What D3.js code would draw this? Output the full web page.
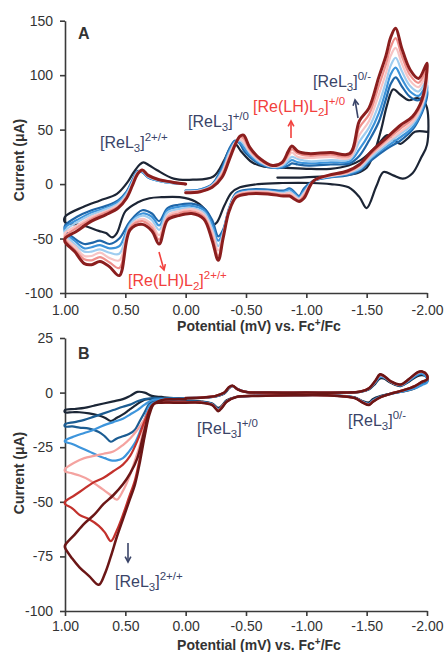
<!DOCTYPE html>
<html><head><meta charset="utf-8">
<script src="https://cdn.jsdelivr.net/npm/d3@7"></script>
<style>
body{margin:0;background:#fff;}
text{font-family:"Liberation Sans",Arial,sans-serif;}
</style></head>
<body><svg id="c" width="445" height="652"></svg>
<script>
// ---------- shared ticks ----------
const xTicks = [1, 0.5, 0, -0.5, -1, -1.5, -2];
const yTicksA = [150, 100, 50, 0, -50, -100];
const yTicksB = [25, 0, -25, -50, -75, -100];

// ---------- Panel A: potential grid (0 -> -2 -> 1 -> 0) ----------
const potA = [0.00,-0.12,-0.22,-0.30,-0.36,-0.41,-0.45,-0.48,-0.53,-0.62,-0.72,-0.80,-0.85,-0.88,-0.93,-1.02,-1.20,-1.36,-1.44,-1.52,-1.60,-1.66,-1.70,-1.74,-1.79,-1.86,-1.93,-2.00,
 -2.00,-1.96,-1.88,-1.78,-1.66,-1.54,-1.44,-1.34,-1.18,-1.06,-0.98,-0.94,-0.89,-0.86,-0.81,-0.68,-0.52,-0.42,-0.36,-0.31,-0.27,-0.22,-0.15,-0.05,0.06,0.15,0.22,0.28,0.36,0.46,0.55,0.63,0.71,0.78,0.84,0.92,1.00,
 1.00,0.90,0.78,0.66,0.56,0.49,0.44,0.40,0.36,0.31,0.22,0.12,0.00];

const iA_darkblue = [-6,-5,0,15,32,40,37,31,25,18,15,15,17,19,18,17,18,19,26,40,57,78,92,98,90,80,77,86,
 80,66,50,40,32,22,12,8,6,3,-4,-11,-6,-4,-6,-5,-5,-8,-22,-42,-48,-33,-22,-18,-19,-22,-34,-27,-24,-34,-50,-55,-52,-54,-55,-50,-42,
 -38,-30,-24,-20,-15,-7,4,12,11,6,3,1,0];
const iA_blue = [-6,-5,-1,13,30,39,38,34,27,19,15,16,20,22,20,19,20,21,32,46,65,86,101,107,97,85,81,91,
 85,68,52,43,34,24,13,9,6,3,-6,-12,-7,-5,-7,-6,-6,-9,-23,-44,-52,-37,-24,-20,-21,-24,-38,-30,-27,-36,-57,-59,-56,-58,-59,-52,-44,
 -40,-33,-26,-22,-16,-8,3,11,11,6,3,1,0];
const iA_lightblue = [-7,-6,-1,11,28,38,40,37,29,20,16,17,22,25,23,21,22,23,39,52,73,94,109,116,104,90,85,96,
 90,71,55,46,36,25,14,10,7,3,-8,-13,-9,-7,-8,-7,-7,-10,-23,-45,-57,-41,-26,-22,-23,-26,-42,-33,-29,-37,-64,-63,-60,-62,-62,-55,-46,
 -43,-35,-28,-23,-18,-9,2,11,12,7,3,1,0];
const iA_lightpink = [-7,-6,-2,10,26,38,41,39,30,21,16,18,25,29,25,24,25,24,45,58,82,102,118,125,111,95,89,101,
 95,73,57,48,38,27,16,10,7,3,-9,-14,-10,-8,-9,-7,-7,-10,-24,-47,-61,-44,-28,-23,-25,-29,-47,-37,-32,-39,-70,-68,-63,-66,-66,-57,-49,
 -45,-38,-30,-25,-19,-11,1,10,12,7,4,2,0];
const iA_salmon = [-8,-7,-2,8,24,37,43,42,32,22,17,19,27,32,28,26,27,26,52,64,90,110,126,134,118,100,93,106,
 100,76,60,51,40,28,17,11,8,3,-11,-15,-12,-10,-10,-8,-8,-11,-24,-48,-66,-48,-30,-25,-27,-31,-51,-40,-34,-40,-77,-72,-67,-70,-69,-60,-51,
 -48,-40,-32,-26,-21,-12,0,10,13,8,4,2,0];
const iA_darkred = [-8,-7,-3,6,22,36,44,45,34,23,17,20,30,35,30,28,29,28,58,70,98,118,135,143,125,105,97,111,
 105,78,62,54,42,30,18,12,8,3,-13,-16,-13,-11,-11,-9,-9,-12,-25,-50,-70,-52,-32,-27,-29,-33,-55,-43,-37,-42,-84,-76,-71,-74,-73,-62,-53,
 -50,-43,-34,-28,-22,-13,-1,9,13,8,4,2,0];

// navy trace (first scan, starts at -0.76 V)
const potA_navy = [-0.76,-0.95,-1.15,-1.30,-1.42,-1.50,-1.56,-1.62,-1.67,-1.72,-1.78,-1.85,-1.92,-1.97,-2.00,
 -2.00,-1.95,-1.88,-1.80,-1.72,-1.64,-1.58,-1.50,-1.44,-1.35,-1.20,-1.05,-0.80,-0.60,-0.45,-0.38,-0.32,-0.26,-0.23,-0.18,-0.08,0.05,0.20,0.30,0.40,0.50,0.57,0.61,0.66,0.72,0.85,1.00,
 1.00,0.85,0.71,0.57,0.48,0.43,0.38,0.35,0.30,0.24,0.10,-0.06,-0.23,-0.32,-0.37,-0.41,-0.46,-0.55,-0.65,-0.80,-1.00,-1.20,-1.35,-1.45,-1.52,-1.60,-1.67,-1.73,-1.78,-1.84,-1.90,-2.00];
const iA_navy = [6,6,7,8,10,15,28,50,73,87,82,77,79,76,70,
 36,24,10,5,8,11,-2,-22,-12,-3,0,1,1,0,-3,-8,-20,-35,-37,-26,-16,-12,-12,-13,-17,-25,-45,-49,-45,-43,-38,-35,
 -30,-21,-15,-9,2,11,18,20,17,13,5,4,7,22,33,37,30,20,16,15,14,14,17,22,28,37,45,40,37,42,48,48];

// ---------- Panel B: potential grid (0 -> -2 -> 1 -> 0) ----------
const potB = [0.00,-0.15,-0.25,-0.32,-0.36,-0.39,-0.43,-0.50,-0.70,-1.00,-1.30,-1.45,-1.52,-1.57,-1.61,-1.64,-1.70,-1.78,-1.85,-1.92,-1.96,-2.00,
 -2.00,-1.96,-1.90,-1.80,-1.70,-1.62,-1.55,-1.52,-1.47,-1.40,-1.20,-0.90,-0.60,-0.42,-0.34,-0.30,-0.27,-0.22,-0.12,0.00,0.10,0.20,0.26,0.30,0.34,0.38,0.42,0.47,0.52,0.57,0.62,0.67,0.72,0.80,0.88,0.94,1.00,
 1.00,0.92,0.84,0.76,0.68,0.60,0.52,0.46,0.40,0.34,0.28,0.20,0.10,0.00];

const iB_navy = [-2.5,-2.3,-1.8,-0.5,2,3,1.5,0.3,0,0,0,0.3,1.5,4,6.5,6.5,4.5,3,5,7.5,8,7,
 5,4,2,0.5,-0.5,-1.5,-3,-4.5,-4,-2.2,-1.2,-1.2,-1.4,-2,-3.5,-6,-7,-5,-4,-3.5,-3.5,-3.5,-3.5,-3,-3.2,-4.5,-6,-8,-10,-11.5,-13,-11.5,-10.5,-9.5,-9,-9,-9,
 -8,-7.5,-7,-6,-5,-4,-3,-1.5,0.3,0,-1.5,-2,-2.5,-2.5];
const iB_darkblue = [-2.5,-2.3,-1.7,-0.3,2.2,3,1.6,0.3,0,0,0,0.4,1.6,4.5,7,7,4.8,3.2,5.3,8,8.5,7,
 5,4,2.2,0.6,-0.5,-1.7,-3.5,-5,-4.2,-2.3,-1.2,-1.2,-1.4,-2,-3.8,-6.5,-7.5,-5.2,-4.2,-4,-4,-4,-4,-5,-9,-13,-17,-19,-20,-21,-22.5,-20,-18,-16.5,-16,-15.5,-15.5,
 -14.5,-13.5,-12.5,-11,-9.5,-8,-6.5,-5.5,-4,-3,-2.5,-2.5,-2.5,-2.5];
const iB_blue = [-2.5,-2.2,-1.6,-0.2,2.3,3,1.6,0.3,0,0,0,0.4,1.7,4.6,7.2,7,5,3.3,5.5,8.2,8.7,6.5,
 4.5,3.5,2,0.5,-0.6,-1.8,-3.8,-5.2,-4.3,-2.4,-1.3,-1.2,-1.5,-2,-3.9,-6.8,-7.8,-5.3,-4.3,-4.3,-4.3,-4.3,-4.5,-6,-12,-18,-23,-27,-30,-31,-31,-30,-29,-27,-25,-23.5,-22.5,
 -22,-20,-18.5,-17,-15,-13.5,-12,-10,-8,-5.5,-3.5,-3,-2.8,-2.7];
const iB_pink = [-2.5,-2.2,-1.5,0,2.5,3,1.5,0.3,0,0,0,0.5,2,5,8,7.5,5,3.5,6,9,9.5,8,
 6,5,3,1,-0.5,-2,-4,-5.5,-4.5,-2.5,-1.3,-1.2,-1.5,-2,-4,-6.5,-8,-5.5,-4.5,-4.5,-4.5,-4.5,-5,-8,-15,-24,-31,-39,-45,-49,-47,-45,-43,-40,-38,-37,-36,
 -35,-32,-30,-29,-28,-27,-24,-21,-17,-12,-6,-3.5,-3,-3];
const iB_red = [-2.5,-2.2,-1.5,0,2.5,3.1,1.5,0.3,0,0,0,0.5,2,5.2,8.2,7.7,5.1,3.6,6.1,9.2,9.6,8,
 6,5,3,1,-0.5,-2,-4.2,-5.6,-4.6,-2.5,-1.3,-1.2,-1.5,-2,-4.1,-6.8,-8.2,-5.6,-4.5,-4.5,-4.5,-4.5,-5,-9,-19,-30,-40,-48,-56,-63,-68,-64,-61,-58,-56,-53,-51,
 -50,-47,-44,-41,-39,-36,-33,-29,-22,-13,-6,-3.5,-3,-3];
const iB_darkred = [-2.5,-2.2,-1.5,0,2.6,3.2,1.5,0.3,0,0,0,0.5,2,5.3,8.4,7.8,5.2,3.7,6.2,9.3,9.7,8,
 6,5,3,1,-0.5,-2,-4.3,-5.7,-4.7,-2.5,-1.3,-1.2,-1.5,-2,-4.2,-7,-8.5,-5.7,-4.6,-4.6,-4.6,-4.6,-5,-10,-20,-32,-42,-50,-58,-66,-75,-83,-88,-84,-80,-76,-71,
 -70,-65,-60,-56,-51,-47,-42,-37,-30,-17,-6,-3.5,-3,-3];

// ---------- drawing ----------
const svg = d3.select("#c");
svg.append("rect").attr("width",445).attr("height",652).attr("fill","#fff");
const FONT = '"Liberation Sans",Arial,sans-serif';
const AX = "#3a3a3a";

const xS = d3.scaleLinear().domain([1,-2]).range([65,427]);
const yA = d3.scaleLinear().domain([-100,150]).range([293,20.7]);
const yB = d3.scaleLinear().domain([-100,25]).range([611,338]);

function drawAxes(y, yTicks, yAxisPos, letter, letterY, titleY, ytitleY, xPad){
  const gx = svg.append("g").attr("transform",`translate(0,${yAxisPos})`)
    .call(d3.axisBottom(xS).tickValues(xTicks).tickSize(5).tickSizeOuter(0).tickPadding(xPad).tickFormat(v=>v.toFixed(2)));
  const gy = svg.append("g").attr("transform","translate(65,0)")
    .call(d3.axisLeft(y).tickValues(yTicks).tickSize(5).tickSizeOuter(0).tickPadding(7).tickFormat(v=>String(v)));
  [gx,gy].forEach(g=>{
    g.selectAll("path,line").attr("stroke",AX).attr("stroke-width",1.6);
    g.selectAll("text").attr("fill","#333").style("font-size","14px").style("font-family",FONT);
  });
  svg.append("text").attr("x",78).attr("y",letterY).text(letter)
    .style("font-size","16px").style("font-weight","bold").attr("fill","#333");
  const t = svg.append("text").attr("x",259).attr("y",titleY).attr("text-anchor","middle")
    .style("font-size","14px").style("font-weight","bold").attr("fill","#333");
  t.append("tspan").text("Potential (mV) vs. Fc");
  t.append("tspan").text("+").attr("dy",-5).style("font-size","10px");
  t.append("tspan").text("/Fc").attr("dy",5);
  svg.append("text").attr("transform",`translate(24,${ytitleY}) rotate(-90)`).attr("text-anchor","middle")
    .style("font-size","14px").style("font-weight","bold").attr("fill","#333").text("Current (\u03bcA)");
}

function drawSeries(y, pot, cur, color, w){
  const line = d3.line().x(d=>xS(d[0])).y(d=>y(d[1])).curve(d3.curveCatmullRom.alpha(0.5));
  svg.append("path").attr("d", line(d3.zip(pot,cur))).attr("fill","none")
    .attr("stroke",color).attr("stroke-width",w).attr("stroke-linejoin","round").attr("stroke-linecap","round");
}

function rich(x, y, parts, color){
  const t = svg.append("text").attr("x",x).attr("y",y).attr("fill",color).style("font-size","16px");
  let cur = 0;
  parts.forEach(p=>{
    const off = p[1]==="sub"?4:(p[1]==="sup"?-7:0);
    const ts = t.append("tspan").text(p[0]).attr("dy", off-cur);
    if(p[1]) ts.style("font-size","11.5px");
    cur = off;
  });
}

function arrow(x1,y1,x2,y2,color){
  svg.append("line").attr("x1",x1).attr("y1",y1).attr("x2",x2).attr("y2",y2)
    .attr("stroke",color).attr("stroke-width",1.6);
  const a = Math.atan2(y2-y1,x2-x1), L=6, s=0.5;
  const p = `M${x2-L*Math.cos(a-s)},${y2-L*Math.sin(a-s)}L${x2},${y2}L${x2-L*Math.cos(a+s)},${y2-L*Math.sin(a+s)}`;
  svg.append("path").attr("d",p).attr("fill","none").attr("stroke",color).attr("stroke-width",1.6);
}

// Panel A
drawAxes(yA, yTicksA, 293, "A", 39, 331, 160, 7);
drawSeries(yA, potA_navy, iA_navy, "#1c2535", 2.2);
drawSeries(yA, potA, iA_darkblue, "#1f66a8", 2.2);
drawSeries(yA, potA, iA_blue, "#3c93da", 2.2);
drawSeries(yA, potA, iA_lightblue, "#9fcdf0", 2.2);
drawSeries(yA, potA, iA_lightpink, "#f7c4c4", 2.2);
drawSeries(yA, potA, iA_salmon, "#ef8f8b", 2.2);
drawSeries(yA, potA, iA_darkred, "#8b1e1e", 3);

const NAVY = "#3a4468", RED = "#f2403d";
rich(100,148,[["[ReL"],["3","sub"],["]"],["2+/+","sup"]],NAVY);
rich(188,127,[["[ReL"],["3","sub"],["]"],["+/0","sup"]],NAVY);
rich(253,112,[["[Re(LH)L"],["2","sub"],["]"],["+/0","sup"]],RED);
rich(313,87,[["[ReL"],["3","sub"],["]"],["0/-","sup"]],NAVY);
rich(128,286,[["[Re(LH)L"],["2","sub"],["]"],["2+/+","sup"]],RED);
arrow(291,138,291,121,RED);
arrow(358,118,355,100,NAVY);
arrow(159,252,164,270,RED);

// Panel B
drawAxes(yB, yTicksB, 611, "B", 359, 650, 473, 5);
drawSeries(yB, potB, iB_navy, "#1b2636", 2.2);
drawSeries(yB, potB, iB_darkblue, "#1b5c92", 2.2);
drawSeries(yB, potB, iB_blue, "#3d95dc", 2.2);
drawSeries(yB, potB, iB_pink, "#f4a3a0", 2.2);
drawSeries(yB, potB, iB_red, "#c3312c", 2.2);
drawSeries(yB, potB, iB_darkred, "#6b1616", 2.5);

rich(197,434,[["[ReL"],["3","sub"],["]"],["+/0","sup"]],NAVY);
rich(348,426,[["[ReL"],["3","sub"],["]"],["0/-","sup"]],NAVY);
rich(115,587,[["[ReL"],["3","sub"],["]"],["2+/+","sup"]],NAVY);
arrow(128,543,128,562,NAVY);
</script></body></html>
